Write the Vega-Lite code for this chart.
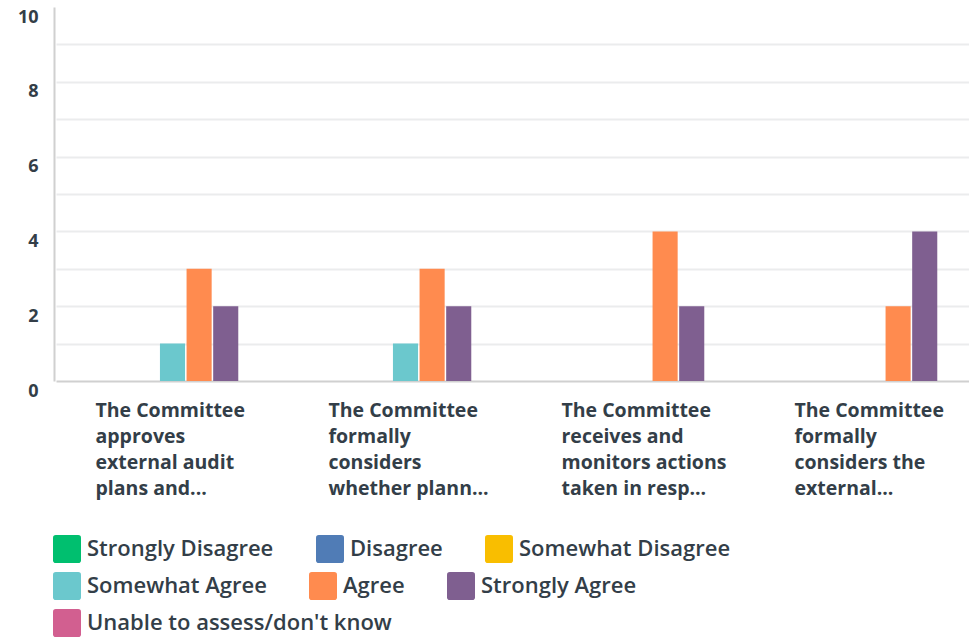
{
  "$schema": "https://vega.github.io/schema/vega-lite/v6.json",
  "width": 915,
  "height": 374,
  "autosize": {"type": "none"},
  "padding": {"left": 54, "top": 7, "right": 0, "bottom": 257},
  "background": "white",
  "config": {
    "view": {"stroke": null},
    "font": "Open Sans",
    "legend": {
      "title": null,
      "orient": "none",
      "direction": "horizontal",
      "columnPadding": 42,
      "padding": 0,
      "symbolType": "M-1,-0.8Q-1,-1,-0.8,-1L0.8,-1Q1,-1,1,-0.8L1,0.8Q1,1,0.8,1L-0.8,1Q-1,1,-1,0.8Z",
      "symbolSize": 784,
      "symbolStrokeWidth": 0,
      "symbolOpacity": 1,
      "labelFont": "Open Sans",
      "labelFontSize": 22,
      "labelFontWeight": 600,
      "labelColor": "#333e48",
      "labelOffset": 6,
      "labelLimit": 400
    }
  },
  "data": {
    "values": [
      {"question": "The Committee approves external audit plans and...", "response": "Strongly Disagree", "count": 0},
      {"question": "The Committee approves external audit plans and...", "response": "Disagree", "count": 0},
      {"question": "The Committee approves external audit plans and...", "response": "Somewhat Disagree", "count": 0},
      {"question": "The Committee approves external audit plans and...", "response": "Somewhat Agree", "count": 1},
      {"question": "The Committee approves external audit plans and...", "response": "Agree", "count": 3},
      {"question": "The Committee approves external audit plans and...", "response": "Strongly Agree", "count": 2},
      {"question": "The Committee approves external audit plans and...", "response": "Unable to assess/don't know", "count": 0},
      {"question": "The Committee formally considers whether plann...", "response": "Strongly Disagree", "count": 0},
      {"question": "The Committee formally considers whether plann...", "response": "Disagree", "count": 0},
      {"question": "The Committee formally considers whether plann...", "response": "Somewhat Disagree", "count": 0},
      {"question": "The Committee formally considers whether plann...", "response": "Somewhat Agree", "count": 1},
      {"question": "The Committee formally considers whether plann...", "response": "Agree", "count": 3},
      {"question": "The Committee formally considers whether plann...", "response": "Strongly Agree", "count": 2},
      {"question": "The Committee formally considers whether plann...", "response": "Unable to assess/don't know", "count": 0},
      {"question": "The Committee receives and monitors actions taken in resp...", "response": "Strongly Disagree", "count": 0},
      {"question": "The Committee receives and monitors actions taken in resp...", "response": "Disagree", "count": 0},
      {"question": "The Committee receives and monitors actions taken in resp...", "response": "Somewhat Disagree", "count": 0},
      {"question": "The Committee receives and monitors actions taken in resp...", "response": "Somewhat Agree", "count": 0},
      {"question": "The Committee receives and monitors actions taken in resp...", "response": "Agree", "count": 4},
      {"question": "The Committee receives and monitors actions taken in resp...", "response": "Strongly Agree", "count": 2},
      {"question": "The Committee receives and monitors actions taken in resp...", "response": "Unable to assess/don't know", "count": 0},
      {"question": "The Committee formally considers the external...", "response": "Strongly Disagree", "count": 0},
      {"question": "The Committee formally considers the external...", "response": "Disagree", "count": 0},
      {"question": "The Committee formally considers the external...", "response": "Somewhat Disagree", "count": 0},
      {"question": "The Committee formally considers the external...", "response": "Somewhat Agree", "count": 0},
      {"question": "The Committee formally considers the external...", "response": "Agree", "count": 2},
      {"question": "The Committee formally considers the external...", "response": "Strongly Agree", "count": 4},
      {"question": "The Committee formally considers the external...", "response": "Unable to assess/don't know", "count": 0}
    ]
  },
  "layer": [
    {
      "mark": {"type": "bar"},
      "encoding": {
        "x": {
          "field": "question",
          "type": "nominal",
          "sort": null,
          "title": null,
          "scale": {"range": [2, 934], "paddingInner": 0, "paddingOuter": 0},
          "axis": {
            "labelAngle": 0,
            "ticks": false,
            "domain": true,
            "domainColor": "#d0d0d0",
            "domainWidth": 2,
            "labelAlign": "left",
            "labelBaseline": "top",
            "labelOffset": -77,
            "labelPadding": 20,
            "labelFont": "Open Sans",
            "labelFontSize": 19.5,
            "labelFontWeight": "bold",
            "labelColor": "#333e48",
            "labelLineHeight": 26,
            "labelLimit": 300,
            "labelExpr": "datum.value == 'The Committee approves external audit plans and...' ? ['The Committee', 'approves', 'external audit', 'plans and...'] : datum.value == 'The Committee formally considers whether plann...' ? ['The Committee', 'formally', 'considers', 'whether plann...'] : datum.value == 'The Committee receives and monitors actions taken in resp...' ? ['The Committee', 'receives and', 'monitors actions', 'taken in resp...'] : ['The Committee', 'formally', 'considers the', 'external...']"
          }
        },
        "xOffset": {
          "field": "response",
          "type": "nominal",
          "sort": ["Strongly Disagree", "Disagree", "Somewhat Disagree", "Somewhat Agree", "Agree", "Strongly Agree", "Unable to assess/don't know"],
          "scale": {"paddingInner": 0.057, "paddingOuter": 0.906}
        },
        "y": {
          "field": "count",
          "type": "quantitative",
          "title": null,
          "scale": {"domain": [0, 10], "nice": false},
          "axis": {
            "values": [0, 1, 2, 3, 4, 5, 6, 7, 8, 9, 10],
            "labelExpr": "datum.value % 2 == 0 ? datum.label : ''",
            "ticks": false,
            "domain": true,
            "domainColor": "#d0d0d0",
            "domainWidth": 2,
            "gridColor": "#ebeced",
            "gridWidth": 2,
            "gridOpacity": {"condition": {"test": "datum.value == 10 || datum.value == 0", "value": 0}, "value": 1},
            "labelFont": "Open Sans",
            "labelFontSize": 18,
            "labelFontWeight": "bold",
            "labelColor": "#333e48",
            "labelPadding": 16,
            "labelOffset": 10,
            "labelFlush": false,
            "labelOverlap": false
          }
        },
        "color": {
          "field": "response",
          "type": "nominal",
          "scale": {
            "domain": ["Strongly Disagree", "Disagree", "Somewhat Disagree", "Somewhat Agree", "Agree", "Strongly Agree", "Unable to assess/don't know"],
            "range": ["#00bf6f", "#507cb6", "#f9be00", "#6bc8cd", "#ff8b4f", "#7f5f90", "#d25f90"]
          },
          "legend": null
        }
      }
    },
    {
      "transform": [
        {"filter": "datum.question == 'The Committee approves external audit plans and...' && indexof(['Strongly Disagree', 'Disagree', 'Somewhat Disagree'], datum.response) >= 0"}
      ],
      "mark": {"type": "square", "opacity": 0},
      "encoding": {
        "color": {
          "field": "response",
          "type": "nominal",
          "scale": {
            "domain": ["Strongly Disagree", "Disagree", "Somewhat Disagree"],
            "range": ["#00bf6f", "#507cb6", "#f9be00"]
          },
          "legend": {"legendX": -1, "legendY": 528, "columns": 3}
        }
      }
    },
    {
      "transform": [
        {"filter": "datum.question == 'The Committee approves external audit plans and...' && indexof(['Somewhat Agree', 'Agree', 'Strongly Agree'], datum.response) >= 0"}
      ],
      "mark": {"type": "square", "opacity": 0},
      "encoding": {
        "color": {
          "field": "response",
          "type": "nominal",
          "scale": {
            "domain": ["Somewhat Agree", "Agree", "Strongly Agree"],
            "range": ["#6bc8cd", "#ff8b4f", "#7f5f90"]
          },
          "legend": {"legendX": -1, "legendY": 565, "columns": 3}
        }
      }
    },
    {
      "transform": [
        {"filter": "datum.question == 'The Committee approves external audit plans and...' && datum.response == \"Unable to assess/don't know\""}
      ],
      "mark": {"type": "square", "opacity": 0},
      "encoding": {
        "color": {
          "field": "response",
          "type": "nominal",
          "scale": {
            "domain": ["Unable to assess/don't know"],
            "range": ["#d25f90"]
          },
          "legend": {"legendX": -1, "legendY": 602, "columns": 1}
        }
      }
    }
  ],
  "resolve": {"scale": {"color": "independent"}, "legend": {"color": "independent"}}
}
